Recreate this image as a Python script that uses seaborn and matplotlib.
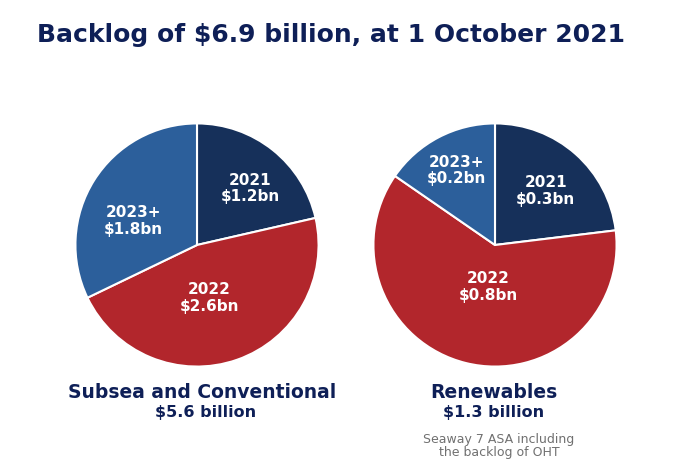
import matplotlib
matplotlib.use("Agg")
import matplotlib.pyplot as plt
import seaborn as sns
import numpy as np

sns.set_theme(style="white")
plt.rcParams['font.family'] = ['DejaVu Sans']

years = ["2021", "2022", "2023+"]
subsea_values = [1.2, 2.6, 1.8]
subsea_labels = ["$1.2bn", "$2.6bn", "$1.8bn"]
renew_values = [0.3, 0.8, 0.2]
renew_labels = ["$0.3bn", "$0.8bn", "$0.2bn"]
colors = ["#16305a", "#b2262c", "#2c5f9b"]

title = "Backlog of $6.9 billion, at 1 October 2021"
navy = "#0e1f57"

# label placement (radius fraction, angle deg) per wedge
subsea_lblpos = [(0.64, 46.5), (0.45, -77), (0.56, 159)]
renew_lblpos = [(0.61, 47), (0.35, -99.5), (0.69, 117.5)]

fig = plt.figure(figsize=(6.9, 4.74), dpi=100)
fig.patch.set_facecolor("white")

def draw(ax, values, labels, lblpos):
    ax.pie(values, colors=colors, startangle=90, counterclock=False,
           wedgeprops=dict(edgecolor="white", linewidth=1.5))
    ax.set_xlim(-1.02, 1.02)
    ax.set_ylim(-1.02, 1.02)
    ax.set_aspect("equal")
    for yr, lab, (r, a) in zip(years, labels, lblpos):
        x = r * np.cos(np.radians(a))
        y = r * np.sin(np.radians(a))
        ax.text(x, y, yr + "\n" + lab.replace("$", r"\$"), ha="center", va="center",
                color="white", fontsize=11, fontweight="bold", linespacing=1.15)

ax1 = fig.add_axes([73 / 690, (474 - 369) / 474, 248 / 690, 248 / 474])
draw(ax1, subsea_values, subsea_labels, subsea_lblpos)
ax2 = fig.add_axes([371 / 690, (474 - 369) / 474, 248 / 690, 248 / 474])
draw(ax2, renew_values, renew_labels, renew_lblpos)

fig.text(37 / 690, 1 - 35 / 474, title.replace("$", r"\$"), ha="left", va="center",
         fontsize=18, fontweight="bold", color=navy)

fig.text(202 / 690, 1 - 392 / 474, "Subsea and Conventional", ha="center", va="center",
         fontsize=13.5, fontweight="bold", color=navy)
fig.text(206 / 690, 1 - 412 / 474, r"\$5.6 billion", ha="center", va="center",
         fontsize=11.5, fontweight="bold", color=navy)
fig.text(494 / 690, 1 - 392 / 474, "Renewables", ha="center", va="center",
         fontsize=13.5, fontweight="bold", color=navy)
fig.text(494 / 690, 1 - 412 / 474, r"\$1.3 billion", ha="center", va="center",
         fontsize=11.5, fontweight="bold", color=navy)
fig.text(499 / 690, 1 - 446 / 474, "Seaway 7 ASA including\nthe backlog of OHT", ha="center",
         va="center", fontsize=9, color="#707070", linespacing=1.05)

fig.savefig("out.png", dpi=100, facecolor="white")
